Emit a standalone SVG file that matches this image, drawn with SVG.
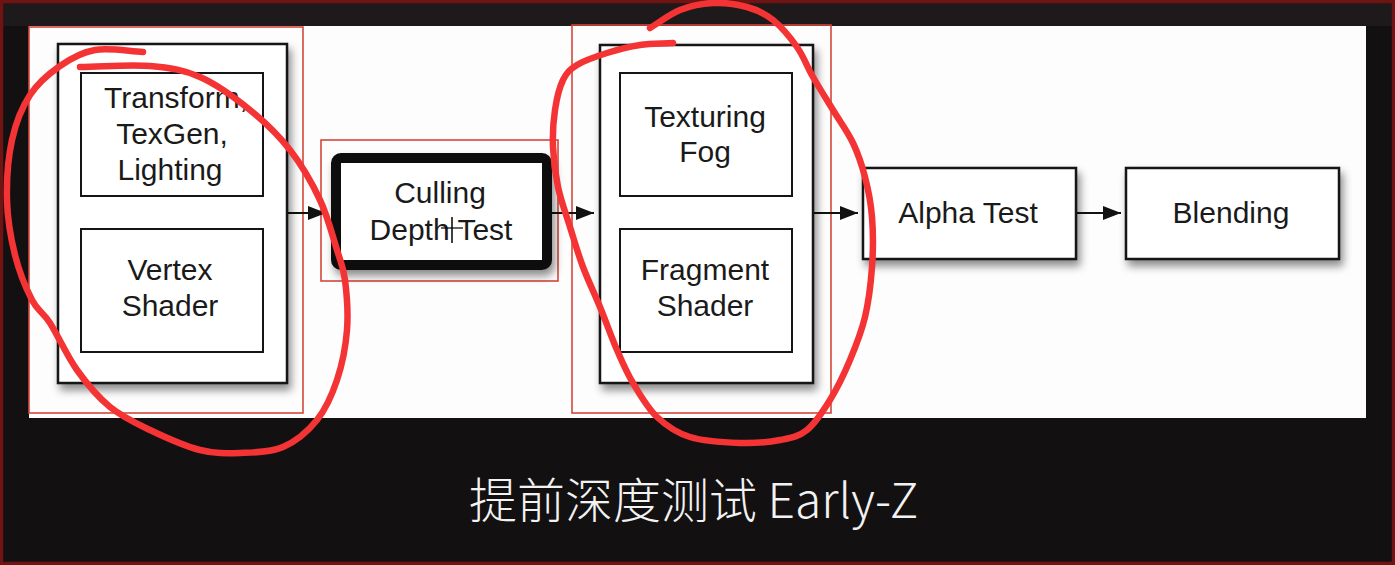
<svg xmlns="http://www.w3.org/2000/svg" width="1395" height="565" viewBox="0 0 1395 565">
<defs>
<style>
.box{fill:#fff;stroke:#151515;stroke-width:2.5}
.inner{fill:#fff;stroke:#151515;stroke-width:2}
.hl{fill:none;stroke:#d4463b;stroke-width:1.6}
.lbl{font-family:"Liberation Sans",Arial,Helvetica,sans-serif;font-size:30px;fill:#1a1a1a;text-anchor:middle}
.conn{stroke:#111;stroke-width:2;fill:none}
.pen{fill:none;stroke:#f43434;stroke-width:6.5;stroke-linecap:round;stroke-linejoin:round}
</style>
<marker id="ah" markerUnits="userSpaceOnUse" markerWidth="18" markerHeight="14" refX="18" refY="7" orient="auto">
<path d="M0,0 L18,7 L0,14 z" fill="#111"/>
</marker>
<filter id="sh" x="-10%" y="-10%" width="130%" height="140%">
<feDropShadow dx="3" dy="6" stdDeviation="4" flood-color="#000" flood-opacity="0.45"/>
</filter>
</defs>
<rect x="0" y="0" width="1395" height="565" fill="#131011"/>
<rect x="0" y="0" width="1395" height="26" fill="#1e191a"/>
<rect x="1.5" y="1.5" width="1392" height="562" fill="none" stroke="#701313" stroke-width="3.5"/>
<rect x="29" y="26" width="1337" height="392" fill="#fdfdfd"/>

<g id="highlights">
<rect class="hl" x="29" y="27" width="274" height="386"/>
<rect class="hl" x="321" y="140" width="237" height="141"/>
<rect class="hl" x="572" y="25" width="259" height="388"/>
</g>

<g id="connectors">
<line class="conn" x1="287" y1="213" x2="326" y2="213" marker-end="url(#ah)"/>
<line class="conn" x1="552" y1="213" x2="594" y2="213" marker-end="url(#ah)"/>
<line class="conn" x1="813" y1="213" x2="858" y2="213" marker-end="url(#ah)"/>
<line class="conn" x1="1076" y1="213" x2="1121" y2="213" marker-end="url(#ah)"/>
</g>

<g id="vertex-stage">
<rect class="box" x="58" y="44" width="229" height="339" filter="url(#sh)"/>
<g id="transform">
<rect class="inner" x="81" y="73" width="182" height="123"/>
<text class="lbl" x="176" y="108">Transform,</text>
<text class="lbl" x="172" y="144">TexGen,</text>
<text class="lbl" x="170" y="180">Lighting</text>
</g>
<g id="vertex-shader">
<rect class="inner" x="81" y="229" width="182" height="123"/>
<text class="lbl" x="170" y="280">Vertex</text>
<text class="lbl" x="170" y="316">Shader</text>
</g>
</g>

<g id="culling">
<rect x="336" y="158" width="211" height="107" rx="5" fill="#fff" stroke="#0d0d0d" stroke-width="10" filter="url(#sh)"/>
<text class="lbl" x="440" y="203">Culling</text>
<text class="lbl" x="441" y="240">Depth Test</text>
<line x1="452" y1="217" x2="452" y2="243" stroke="#000" stroke-width="1.5"/>
<line x1="441" y1="228" x2="463" y2="228" stroke="#000" stroke-width="1.2"/>
</g>

<g id="fragment-stage">
<rect class="box" x="600" y="45" width="213" height="338" filter="url(#sh)"/>
<g id="texturing">
<rect class="inner" x="620" y="73" width="172" height="123"/>
<text class="lbl" x="705" y="127">Texturing</text>
<text class="lbl" x="705" y="162">Fog</text>
</g>
<g id="fragment-shader">
<rect class="inner" x="620" y="229" width="172" height="123"/>
<text class="lbl" x="705" y="280">Fragment</text>
<text class="lbl" x="705" y="316">Shader</text>
</g>
</g>

<g id="alpha-test">
<rect class="box" x="863" y="168" width="213" height="91" filter="url(#sh)"/>
<text class="lbl" x="968" y="223">Alpha Test</text>
</g>

<g id="blending">
<rect class="box" x="1126" y="168" width="213" height="91" filter="url(#sh)"/>
<text class="lbl" x="1231" y="223">Blending</text>
</g>

<g id="annotations">
<path class="pen" d="M143,52 C127,51 108.8,47.7 95,50 S70.8,58.5 60,66 S38,82.7 30,95 S15.8,122.5 12,140 S6.5,180.8 7,200 S10.8,238.3 15,255 S26.2,288.7 32,300 S42.5,311.3 50,323 S67,356 77,370 S97.8,397 110,407 S135,422.8 150,430 S185,446.2 200,450 S226.2,453.5 240,453 S270.2,452.5 283,447 S308,431.2 317,420 S332,395 337,380 S345.7,346.7 347,330 S346.7,293.3 345,280 S341.2,263.3 337,250 S327.8,216.7 320,200 S301.7,165 290,150 S265,122.2 250,110 S216.7,84.3 200,77 S170,67.7 150,66 S103,66.7 80,67"/>
<path class="pen" d="M650,28 C660,22 669.5,14.2 680,10 S701.8,3.5 713,3 S737,4.2 747,7 S764.7,13.3 773,20 S790.3,37.5 797,47 S807,66.5 813,77 S826.3,99 833,110 S847.7,131.8 853,143 S861.8,164.7 865,177 S870.8,202 872,217 S873.2,250.3 872,267 S868.7,301.5 865,317 S855.8,346.2 850,360 S837.2,388.3 830,400 S815.3,423.3 807,430 S791.2,437.8 780,440 S755,443.5 740,443 S703.8,441.3 690,437 S666.5,426 657,417 S639.7,394.2 633,383 S622.5,362.7 617,350 S605.7,320.8 600,307 S588,280.3 583,267 S574.2,240.3 570,227 S560.8,200.3 558,187 S553.5,159.8 553,147 S553.3,121.2 555,110 S559.3,87.5 563,80 S569.7,69.5 577,65 S596.5,56.3 607,53 S629,46.7 640,45 S662,43.7 673,43"/>
</g>

<text x="469" y="518" font-family="'Noto Sans CJK SC',sans-serif" font-size="48" font-weight="300" fill="#f2f2f2">提前深度测试 Early-Z</text>
</svg>
